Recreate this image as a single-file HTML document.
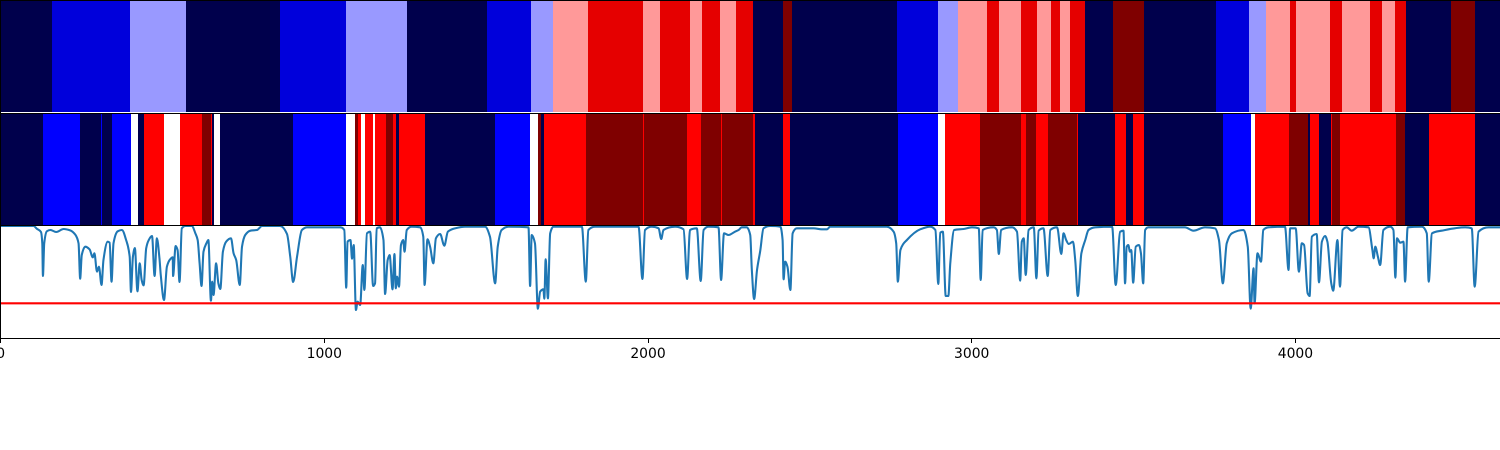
<!DOCTYPE html>
<html>
<head>
<meta charset="utf-8">
<title>State bands and signal chart</title>
<style>
html,body{margin:0;padding:0;background:#fff;}
svg{display:block;}
text{font-family:"DejaVu Sans","Liberation Sans",sans-serif;font-size:13.9px;fill:#000;}
</style>
</head>
<body>
<svg id="chart" xmlns="http://www.w3.org/2000/svg" width="1500" height="450" viewBox="0 0 1500 450"></svg>
<script>
const tickValues = [0, 1000, 2000, 3000, 4000];
const tickLabels = ["0", "1000", "2000", "3000", "4000"];
const topBandEnds = [161,402,575,865,1069,1257,1504,1640,1708,1817,1986,2039,2132,2169,2224,2274,2326,2419,2447,2771,2898,2959,3049,3086,3154,3204,3247,3275,3306,3352,3438,3534,3757,3858,3911,3985,4004,4109,4146,4232,4269,4310,4344,4483,4557,4634];
const topBandStates = [0,1,2,0,1,2,0,1,2,3,4,3,4,3,4,3,4,0,5,0,1,2,3,4,3,4,3,4,3,4,0,5,0,1,2,3,4,3,4,3,4,3,4,0,5,0];
const midBandEnds = [133,247,312,315,346,405,426,445,507,556,624,652,655,661,680,905,1069,1097,1106,1115,1128,1152,1158,1192,1214,1223,1233,1313,1529,1637,1662,1671,1681,1810,1986,1989,2122,2166,2227,2230,2326,2332,2419,2441,2774,2898,2919,3027,3154,3170,3200,3237,3327,3330,3445,3479,3500,3534,3778,3865,3877,3982,4041,4047,4075,4112,4115,4140,4313,4340,4415,4557,4634];
const midBandStates = [0,1,0,1,0,1,2,0,3,2,3,4,3,0,2,0,1,2,4,3,2,3,2,3,4,3,0,3,0,1,2,4,0,3,4,3,4,3,4,3,4,3,0,3,0,1,2,3,4,3,4,3,4,3,0,3,0,3,0,1,2,3,4,0,3,0,3,4,3,4,0,3,0];
const signalX = [0,103,113,126,130,132,136,144,155,173,196,216,232,242,247,252,263,276,286,291,299,305,313,319,332,338,344,350,363,376,389,400,404,410,416,424,431,437,443,451,458,469,477,484,492,496,506,515,525,533,534,542,548,554,561,572,592,603,610,616,622,628,637,643,651,655,659,667,674,680,688,698,713,721,729,740,747,757,773,793,809,865,886,896,905,917,932,948,1051,1063,1069,1073,1082,1087,1092,1099,1104,1112,1120,1125,1133,1143,1152,
1158,1163,1173,1184,1189,1197,1203,1212,1218,1222,1226,1232,1238,1245,1249,1256,1271,1297,1307,1311,1320,1328,1338,1346,1359,1372,1383,1405,1436,1498,1513,1529,1537,1549,1570,1632,1637,1642,1652,1661,1668,1678,1681,1685,1692,1699,1709,1797,1809,1817,1838,1972,1984,1992,2013,2034,2042,2049,2085,2111,2122,2131,2152,2164,2173,2188,2219,2227,2236,2250,2270,2281,2291,2306,
2317,2322,2329,2338,2348,2358,2379,2410,2417,2420,2425,2432,2441,2448,2461,2513,2538,2554,2564,2739,2760,2768,2773,2781,2801,2842,2873,2889,2898,2904,2912,2921,2929,2935,2947,2976,3002,3023,3029,3035,3069,3079,3085,3092,3126,3141,3151,3156,3162,3168,3177,3193,3201,3208,3223,3236,3244,3265,3278,3285,3293,3301,3314,3321,3329,3340,3352,3362,3383,3435,3446,3460,3470,
3475,3480,3485,3490,3494,3500,3508,3518,3524,3531,3537,3547,3660,3686,3722,3753,3765,3777,3789,3805,3841,3854,3863,3872,3875,3884,3895,3902,3918,3969,3980,3985,4002,4012,4021,4028,4039,4045,4052,4067,4074,4083,4093,4100,4112,4118,4131,4139,4147,4160,4175,4196,4227,4239,4243,4248,4256,4263,4273,4294,4304,4310,4315,4325,4335,4340,4348,4392,4407,4413,4423,4453,4526,4546,4555,4567,4598,4634];
const signalY = [336,336,328,318,284,186,284,320,324,318,327,323,310,284,178,249,274,266,242,254,199,214,159,234,289,286,169,284,320,324,294,244,138,244,270,140,224,174,158,269,292,306,186,299,239,189,114,214,236,242,186,276,264,168,329,336,336,314,294,224,156,259,284,294,112,169,129,224,164,147,259,289,299,254,234,159,274,309,322,324,336,336,312,244,168,244,324,332,332,324,151,289,294,238,279,84,109,99,219,144,314,319,156,
164,329,332,294,132,234,249,146,252,149,184,154,279,294,259,324,334,332,304,159,296,274,224,299,312,277,319,329,334,334,304,164,274,324,334,332,156,309,284,88,139,146,118,236,119,314,334,334,169,324,334,334,177,324,334,329,297,324,334,326,177,324,329,171,324,334,332,174,314,309,319,324,332,332,
309,204,117,204,262,329,336,334,294,176,229,214,144,314,329,329,326,326,334,334,319,284,169,264,294,326,334,324,162,316,319,126,126,224,324,327,332,329,174,324,332,324,252,324,332,319,172,289,299,189,324,332,179,322,329,186,324,332,252,314,294,282,289,234,126,254,294,324,332,334,159,319,322,
164,274,279,259,264,166,274,279,254,164,324,332,332,322,332,329,294,164,284,314,324,274,88,209,104,254,229,324,332,334,204,329,329,199,284,279,134,126,304,312,167,289,306,289,164,142,294,154,324,332,322,334,332,264,239,274,244,219,324,334,324,181,299,286,289,169,332,334,314,169,314,322,332,329,154,319,332,332];
const thresholdValue = 104;

const NS = "http://www.w3.org/2000/svg";
const svg = document.getElementById("chart");
const xDomainMax = 4632;
const plotWidth = 1499.4;
const bandTop = { y: 0, h: 112 };
const bandMid = { y: 114, h: 111 };
const signalBox = { y: 226, h: 112 };
const yDomainMax = 336;

function scaleX(v) { return 0.6 + (v / xDomainMax) * plotWidth; }
function bandX(v) { return (v / xDomainMax) * plotWidth; }
function lineX(v) { return 0.2 + (v / xDomainMax) * plotWidth; }
function scaleY(v) { return signalBox.y + signalBox.h - (v / yDomainMax) * signalBox.h; }

const anchors = [[0,0,0,76],[0.25,0,0,255],[0.5,255,255,255],[0.75,255,0,0],[1,127,0,0]];
function seismic(t) {
  for (let i = 1; i < anchors.length; i++) {
    if (t <= anchors[i][0]) {
      const a = anchors[i - 1], b = anchors[i];
      const f = (t - a[0]) / (b[0] - a[0]);
      return "rgb(" + [1, 2, 3].map(k => Math.round(a[k] + (b[k] - a[k]) * f)).join(",") + ")";
    }
  }
  return "rgb(127,0,0)";
}

function drawBand(ends, states, box, levels, name) {
  const g = document.createElementNS(NS, "g");
  
  
  g.setAttribute("shape-rendering", "crispEdges");
  let start = 0;
  ends.forEach((end, i) => {
    const r = document.createElementNS(NS, "rect");
    
    
    const x0 = Math.round(bandX(start));
    const x1 = Math.round(bandX(end));
    r.setAttribute("x", x0);
    r.setAttribute("y", box.y);
    r.setAttribute("width", Math.max(1, x1 - x0));
    r.setAttribute("height", box.h);
    r.setAttribute("fill", seismic(states[i] / levels));
    g.appendChild(r);
    start = end;
  });
  svg.appendChild(g);
}
drawBand(topBandEnds, topBandStates, bandTop, 5, "top-state-band");
drawBand(midBandEnds, midBandStates, bandMid, 4, "middle-state-band");

function monotonePath(xs, ys) {
  const n = xs.length;
  const dx = [], m = [], t = [];
  for (let i = 0; i < n - 1; i++) {
    dx[i] = xs[i + 1] - xs[i];
    m[i] = (ys[i + 1] - ys[i]) / dx[i];
  }
  t[0] = m[0];
  t[n - 1] = m[n - 2];
  for (let i = 1; i < n - 1; i++) {
    if (m[i - 1] * m[i] <= 0) { t[i] = 0; continue; }
    const w1 = 2 * dx[i] + dx[i - 1], w2 = dx[i] + 2 * dx[i - 1];
    t[i] = (w1 + w2) / (w1 / m[i - 1] + w2 / m[i]);
  }
  let d = "M" + xs[0].toFixed(2) + "," + ys[0].toFixed(2);
  for (let i = 0; i < n - 1; i++) {
    const h = dx[i] / 3;
    d += "C" + (xs[i] + h).toFixed(2) + "," + (ys[i] + t[i] * h).toFixed(2) + " " +
         (xs[i + 1] - h).toFixed(2) + "," + (ys[i + 1] - t[i + 1] * h).toFixed(2) + " " +
         xs[i + 1].toFixed(2) + "," + ys[i + 1].toFixed(2);
  }
  return d;
}

const signal = document.createElementNS(NS, "path");


signal.setAttribute("d", monotonePath(signalX.map(lineX), signalY.map(scaleY)));
signal.setAttribute("fill", "none");
signal.setAttribute("stroke", "#1f77b4");
signal.setAttribute("stroke-width", "2.08");
signal.setAttribute("stroke-linejoin", "round");
svg.appendChild(signal);

const threshold = document.createElementNS(NS, "line");


threshold.setAttribute("x1", 0);
threshold.setAttribute("x2", 1500);
threshold.setAttribute("y1", scaleY(thresholdValue));
threshold.setAttribute("y2", scaleY(thresholdValue));
threshold.setAttribute("stroke", "#ff0000");
threshold.setAttribute("stroke-width", "2.08");
svg.appendChild(threshold);

const spines = [[0,0.5,1500,0.5],[0,113.5,1500,113.5],[0,225.5,1500,225.5],[0,338.5,1500,338.5],[0.5,0,0.5,339]];
spines.forEach(s => {
  const l = document.createElementNS(NS, "line");
  
  
  l.setAttribute("x1", s[0]);
  l.setAttribute("y1", s[1]);
  l.setAttribute("x2", s[2]);
  l.setAttribute("y2", s[3]);
  l.setAttribute("stroke", "#000");
  l.setAttribute("stroke-width", "1");
  svg.appendChild(l);
});

tickValues.forEach((v, i) => {
  const px = Math.floor(scaleX(v)) + 0.5;
  const t = document.createElementNS(NS, "line");
  
  
  t.setAttribute("x1", px);
  t.setAttribute("x2", px);
  t.setAttribute("y1", 339);
  t.setAttribute("y2", 343);
  t.setAttribute("stroke", "#000");
  t.setAttribute("stroke-width", "1");
  svg.appendChild(t);
  const label = document.createElementNS(NS, "text");
  
  
  label.setAttribute("x", scaleX(v));
  label.setAttribute("y", 358);
  label.setAttribute("text-anchor", "middle");
  label.textContent = tickLabels[i];
  svg.appendChild(label);
});
</script>
</body>
</html>
